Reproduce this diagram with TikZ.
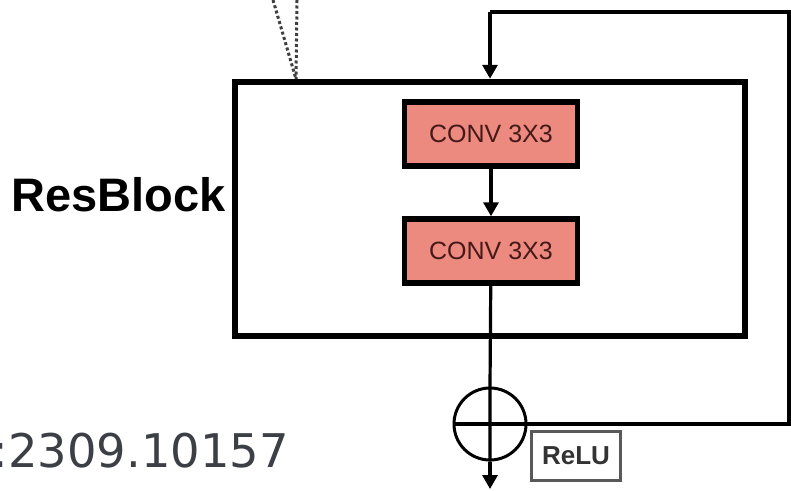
\documentclass[tikz,border=0pt]{standalone}
\usepackage{fontspec}
\setmainfont{Liberation Sans}
\newfontfamily\dejavu{DejaVu Sans}
\usetikzlibrary{arrows.meta}
\definecolor{convfill}{RGB}{236,138,128}
\definecolor{convtext}{RGB}{70,25,25}
\definecolor{idgray}{RGB}{60,64,70}
\begin{document}
\begin{tikzpicture}[x=1pt,y=-1pt,
  thinline/.style={line width=3.2pt,black},
  tip/.style={-{Triangle[width=15pt,length=14pt]}},
  convbox/.style={draw=black,line width=5.5pt,fill=convfill,minimum width=173pt,minimum height=64pt,inner sep=0pt,
     font=\fontsize{25}{27}\selectfont,text=convtext},
  dotline/.style={line width=3pt,black!75,dash pattern=on 3pt off 2.5pt}]
\path[fill=white] (0,0) rectangle (791,490);
\useasboundingbox (0,0) rectangle (791,490);
% main block
\node[draw=black,line width=6.5pt,minimum width=510pt,minimum height=254pt,inner sep=0pt] (blk) at (490,209) {};
\node[convbox] (c1) at (491,134) {CONV 3X3};
\node[convbox] (c2) at (491,251) {CONV 3X3};
\node[draw=black,line width=3pt,circle,minimum size=72pt,inner sep=0pt] (s) at (490,424) {};
\node[draw=black!65,line width=3.2pt,minimum width=89pt,minimum height=49pt,inner sep=0pt,
  font=\fontsize{26}{28}\selectfont\bfseries,text=black!80] (relu) at (576,456) {ReLU};
\node[anchor=east,font=\fontsize{47}{50}\selectfont\bfseries,inner sep=0pt] (lbl) at (226,195) {ResBlock};
\node[anchor=base east,font=\dejavu\fontsize{46.4}{50}\selectfont,text=idgray,inner sep=0pt] (arx) at (289,467) {:2309.10157};
% coordinates
\coordinate (fbr) at (789,424);
\coordinate (fbt) at (789,12);
\coordinate (fbl) at (490,12);
\coordinate (out) at (490,489);
\coordinate (d0) at (273,0);
\coordinate (d1) at (297,0);
\coordinate (dj) at (296,79);
% connectors
\draw[thinline,tip] (c1) -- (c2);
\draw[thinline] (c2) -- (s.north) -- (s.south);
\draw[thinline,tip] (s.south) -- (out);
\draw[thinline,line join=miter] (s.west) -- (fbr) -- (fbt) -- (fbl);
\draw[thinline,tip] (fbl) -- (blk.north);
\draw[dotline] (d0) -- (dj);
\draw[dotline] (d1) -- (dj);
\end{tikzpicture}
\end{document}
